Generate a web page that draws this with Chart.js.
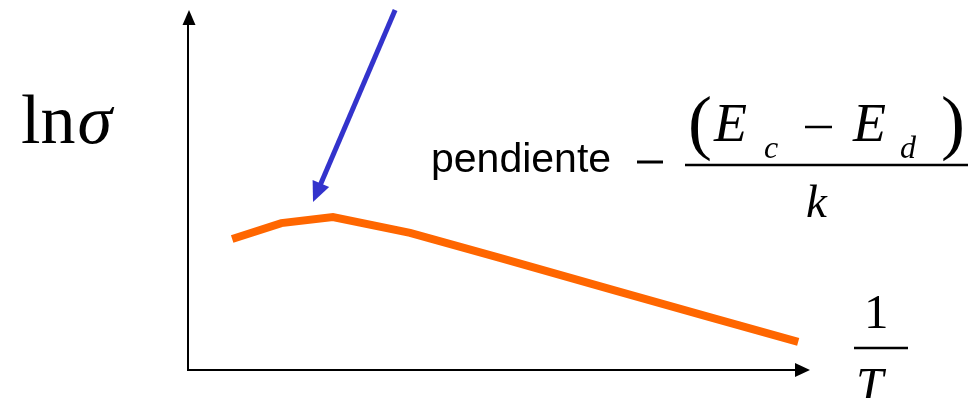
<!DOCTYPE html>
<html>
<head>
<meta charset="utf-8">
<script src="https://cdn.jsdelivr.net/npm/chart.js@4.4.1/dist/chart.umd.min.js"></script>
<style>
  html, body { margin: 0; padding: 0; background: #fff; }
  #wrap { position: relative; width: 974px; height: 398px; }
</style>
</head>
<body>
<div id="wrap"><canvas id="c" width="974" height="398"></canvas></div>
<script>
// Conductivity curve: ln(sigma) against 1/T (arbitrary units)
const invT   = [0.71, 1.50, 2.33, 3.57, 5.00, 6.90, 8.40, 9.81];
const lnSig  = [3.64, 4.08, 4.25, 3.81, 3.12, 2.19, 1.46, 0.78];

// Pointer arrow marking the maximum: tail -> head, in data units
const pointerX = [3.33, 2.01];
const pointerY = [10.0, 4.67];

const SERIF = '"Liberation Serif", "Times New Roman", serif';
const SANS  = '"Liberation Sans", Arial, sans-serif';

function arrowHead(ctx, tx, ty, angle, len, half) {
  ctx.save();
  ctx.translate(tx, ty);
  ctx.rotate(angle);
  ctx.beginPath();
  ctx.moveTo(0, 0);
  ctx.lineTo(-len, -half);
  ctx.lineTo(-len, half);
  ctx.closePath();
  ctx.fill();
  ctx.restore();
}

const decorations = {
  id: 'decorations',
  beforeDatasetsDraw(chart) {
    const { ctx, chartArea: a } = chart;
    ctx.save();
    ctx.strokeStyle = '#000';
    ctx.fillStyle = '#000';
    ctx.lineWidth = 2;
    // vertical axis
    ctx.beginPath();
    ctx.moveTo(a.left, a.bottom + 1);
    ctx.lineTo(a.left, a.top + 12);
    ctx.stroke();
    arrowHead(ctx, a.left + 1, a.top, -Math.PI / 2, 15, 6.5);
    // horizontal axis
    ctx.beginPath();
    ctx.moveTo(a.left - 1, a.bottom);
    ctx.lineTo(a.right - 12, a.bottom);
    ctx.stroke();
    arrowHead(ctx, a.right, a.bottom, 0, 15, 7);
    ctx.restore();
  },
  afterDatasetsDraw(chart) {
    const { ctx } = chart;
    const xs = chart.scales.x, ys = chart.scales.y;
    ctx.save();
    // blue pointer
    const x0 = xs.getPixelForValue(pointerX[0]), y0 = ys.getPixelForValue(pointerY[0]);
    const x1 = xs.getPixelForValue(pointerX[1]), y1 = ys.getPixelForValue(pointerY[1]);
    const ang = Math.atan2(y1 - y0, x1 - x0);
    ctx.strokeStyle = '#3333CC';
    ctx.fillStyle = '#3333CC';
    ctx.lineWidth = 5;
    ctx.beginPath();
    ctx.moveTo(x0, y0);
    ctx.lineTo(x1 - 14 * Math.cos(ang), y1 - 14 * Math.sin(ang));
    ctx.stroke();
    arrowHead(ctx, x1, y1, ang, 20, 9);

    // labels
    ctx.fillStyle = '#000';
    ctx.strokeStyle = '#000';
    ctx.textBaseline = 'alphabetic';
    ctx.textAlign = 'left';

    ctx.font = '70px ' + SERIF;
    ctx.fillText('ln', 21, 143);
    const lnW = ctx.measureText('ln').width;
    ctx.font = 'italic 70px ' + SERIF;
    ctx.fillText('σ', 21 + lnW + 2, 143);

    ctx.font = '41px ' + SANS;
    ctx.fillText('pendiente', 431, 172);

    ctx.lineWidth = 3;
    ctx.beginPath(); ctx.moveTo(637, 162); ctx.lineTo(663, 162); ctx.stroke();

    ctx.font = '72px ' + SERIF;
    ctx.fillText('(', 688, 146);
    ctx.fillText(')', 941, 146);

    ctx.font = 'italic 54px ' + SERIF;
    ctx.fillText('E', 714, 141);
    ctx.fillText('E', 853, 141);
    ctx.font = 'italic 32px ' + SERIF;
    ctx.fillText('c', 764, 158);
    ctx.fillText('d', 900, 158);

    ctx.lineWidth = 2.5;
    ctx.beginPath(); ctx.moveTo(805, 127); ctx.lineTo(832, 127); ctx.stroke();
    ctx.beginPath(); ctx.moveTo(685, 165); ctx.lineTo(968, 165); ctx.stroke();

    ctx.font = 'italic 47px ' + SERIF;
    ctx.fillText('k', 806, 217);

    ctx.font = '49px ' + SERIF;
    ctx.fillText('1', 864, 328);
    ctx.beginPath(); ctx.moveTo(854, 348); ctx.lineTo(908, 348); ctx.stroke();
    ctx.font = 'italic 49px ' + SERIF;
    ctx.fillText('T', 856, 401);
    ctx.restore();
  }
};

new Chart(document.getElementById('c'), {
  type: 'line',
  data: {
    datasets: [{
      data: invT.map((x, i) => ({ x, y: lnSig[i] })),
      borderColor: '#FF6600',
      borderWidth: 8,
      borderJoinStyle: 'miter',
      borderCapStyle: 'butt',
      pointRadius: 0,
      tension: 0,
      fill: false
    }]
  },
  options: {
    responsive: false,
    animation: false,
    events: [],
    layout: { padding: { left: 188, right: 164, top: 10, bottom: 28 } },
    scales: {
      x: { type: 'linear', min: 0, max: 10, display: false },
      y: { type: 'linear', min: 0, max: 10, display: false }
    },
    plugins: { legend: { display: false }, tooltip: { enabled: false } }
  },
  plugins: [decorations]
});
</script>
</body>
</html>
